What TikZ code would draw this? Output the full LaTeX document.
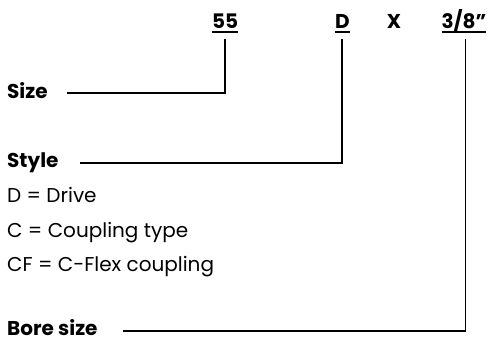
\documentclass[tikz,border=0pt]{standalone}
\usepackage{fontspec}
\setmainfont{Poppins}
\usepackage{tikz}
\usetikzlibrary{calc}

% thick underline for the code fields
\newcommand{\codeul}[1]{{\setbox0\hbox{#1}\rlap{\raisebox{-4.5pt}{\rule{\wd0}{1.6pt}}}\box0}}

\tikzset{
  code/.style={font=\fontsize{20}{24}\selectfont\bfseries, anchor=base, inner sep=0pt},
  label/.style={font=\fontsize{20}{24}\selectfont\bfseries, anchor=base west, inner sep=0pt},
  entry/.style={font=\fontsize{20}{24}\selectfont, anchor=base west, inner sep=0pt},
  lead/.style={line width=1.4pt}
}

\begin{document}
\begin{tikzpicture}[x=1pt, y=-1pt]
    \useasboundingbox (0,0) rectangle (492,343);

    % Ordering code
    \node[code] (c55) at (225,28) {\codeul{55}};
    \node[code] (cD) at (342.5,28) {\codeul{D}};
    \node[code] (cX) at (394,28) {X};
    \node[code] (cB) at (464,28) {\codeul{3/8”}};

    % Field labels
    \node[label] (size) at (7,98) {Size};
    \node[label] (style) at (7,167) {Style};
    \node[entry] (e1) at (7,202) {D = Drive};
    \node[entry] (e2) at (7,237) {C = Coupling type};
    \node[entry] (e3) at (7,271) {CF = C-Flex coupling};
    \node[label] (bore) at (7,335) {Bore size};

    % Leader lines
    \coordinate (t55) at (225,39);
    \coordinate (tD) at (342,39);
    \coordinate (tB) at (465.5,39);
    \coordinate (eSize) at (67,93);
    \coordinate (eStyle) at (80,163);
    \coordinate (eBore) at (123,331);
    \draw[lead] (t55) |- (eSize);
    \draw[lead] (tD) |- (eStyle);
    \draw[lead] (tB) |- (eBore);
\end{tikzpicture}
\end{document}
